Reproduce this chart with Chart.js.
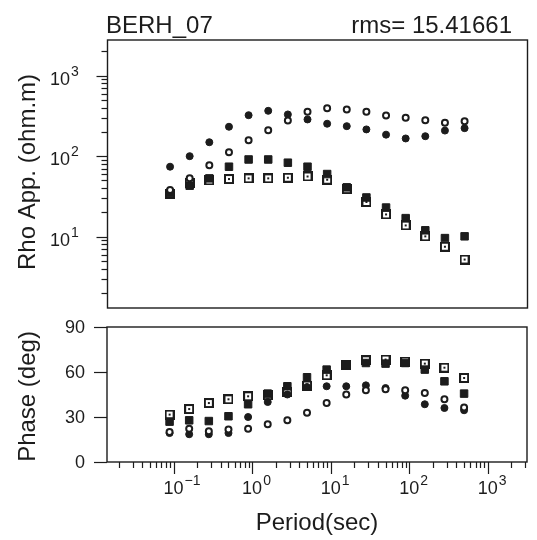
<!DOCTYPE html>
<html>
<head>
<meta charset="UTF-8">
<title>BERH_07</title>
<style>
  body { margin: 0; background: #fff; }
  #wrap { position: relative; width: 537px; height: 540px; background: #fff; }
  canvas { position: absolute; left: 0; }
  #rho { top: 0; }
  #phase { top: 315px; }
</style>
<script src="https://cdn.jsdelivr.net/npm/chart.js"></script>
</head>
<body>
<div id="wrap">
  <canvas id="rho" width="537" height="320"></canvas>
  <canvas id="phase" width="537" height="225"></canvas>
</div>
<script>
// periods (s)
const periods = [0.0889, 0.158, 0.281, 0.5, 0.889, 1.58, 2.81, 5, 8.89, 15.8, 28.1, 50, 88.9, 158, 281, 500];

// apparent resistivity (ohm.m)
const rhoCircleFilled = [74, 100, 149, 232, 323, 366, 330, 286, 253, 236, 215, 185, 166, 177, 208, 223];
const rhoCircleOpen   = [38, 53, 77, 112, 158, 210, 277, 356, 395, 380, 356, 320, 300, 280, 260, 272];
const rhoSquareFilled = [35, 43, 53, 74, 91, 91, 83, 74, 60, 41, 30.7, 23, 17, 12, 9.6, 10.1];
const rhoSquareOpen   = [34, 46, 50, 52, 53, 53, 54, 56, 51, 39, 27, 18.9, 13.8, 10.1, 7.5, 5.2];

// phase (deg)
const phaseCircleFilled = [19.3, 18.5, 18.5, 19.3, 30, 40, 45, 50, 50.5, 50.5, 51.1, 49.3, 44.2, 38.5, 36, 34.5];
const phaseCircleOpen   = [20, 22.2, 20.5, 21.6, 22.2, 25.1, 27.8, 32.9, 39.3, 45, 47.8, 48.5, 47.8, 46, 41.8, 36.3];
const phaseSquareFilled = [26.9, 27.8, 27.3, 30.5, 38.5, 45.6, 50.5, 56.5, 61.6, 64.9, 66, 65.6, 66, 61.6, 53.8, 45.6];
const phaseSquareOpen   = [31.6, 35.3, 39.3, 41.8, 43.8, 44.5, 46.5, 51, 57.8, 65, 67.8, 68.3, 67, 65.6, 62.9, 56];

// tick labels
const periodExps = [-1, 0, 1, 2, 3];
const rhoExps = [1, 2, 3];
const phaseTicks = [0, 30, 60, 90];

const INK = '#1c1c1c';
const FONT = '"Liberation Sans", Arial, sans-serif';

// open square with a dot in the middle
const openSq = document.createElement('canvas');
openSq.width = 10; openSq.height = 10;
(function () {
  const c = openSq.getContext('2d');
  c.fillStyle = '#fff'; c.fillRect(0, 0, 10, 10);
  c.strokeStyle = INK; c.lineWidth = 2; c.strokeRect(1, 1, 8, 8);
  c.fillStyle = INK; c.fillRect(4, 4, 2, 2);
})();

function pts(ys) {
  return periods.map((p, i) => ({ x: p, y: ys[i] }));
}

function makeSets(cf, co, sf, so) {
  return [
    { label: 'open circle', data: pts(co), pointStyle: 'circle', radius: 3, borderWidth: 2, borderColor: INK, backgroundColor: '#fff' },
    { label: 'filled circle', data: pts(cf), pointStyle: 'circle', radius: 3.5, borderWidth: 1, borderColor: INK, backgroundColor: INK },
    { label: 'filled square', data: pts(sf), pointStyle: 'rect', radius: 5.3, borderWidth: 1, borderColor: INK, backgroundColor: INK },
    { label: 'open square', data: pts(so), pointStyle: openSq, radius: 5 }
  ];
}

function pow10(ctx, exp, x, y, align) {
  ctx.fillStyle = INK;
  ctx.textBaseline = 'middle';
  ctx.font = '18px ' + FONT;
  const w = ctx.measureText('10').width;
  let x0 = align === 'center' ? x - w / 2 : x - w;
  ctx.textAlign = 'left';
  ctx.fillText('10', x0, y);
  ctx.font = '14px ' + FONT;
  ctx.fillText(String(exp).replace('-', '\u2212'), x0 + w + 1, y - 8);
}

function logMinors(min, max) {
  const out = [];
  for (let k = Math.floor(Math.log10(min)); k <= Math.ceil(Math.log10(max)); k++) {
    for (let m = 1; m <= 9; m++) {
      const v = m * Math.pow(10, k);
      if (v >= min && v <= max) out.push({ v: v, major: m === 1 });
    }
  }
  return out;
}

function frame(ctx, a) {
  ctx.save();
  ctx.strokeStyle = INK;
  ctx.lineWidth = 1.4;
  ctx.strokeRect(a.left, a.top, a.right - a.left, a.bottom - a.top);
  ctx.restore();
}

const rhoDeco = {
  id: 'rhoDeco',
  afterDraw(chart) {
    const ctx = chart.ctx, a = chart.chartArea, y = chart.scales.y;
    frame(ctx, a);
    ctx.save();
    ctx.strokeStyle = INK; ctx.lineWidth = 1.2;
    logMinors(y.min, y.max).forEach(t => {
      const py = Math.round(y.getPixelForValue(t.v)) + 0.5;
      ctx.beginPath();
      ctx.moveTo(a.left - (t.major ? 11 : 6), py);
      ctx.lineTo(a.left, py);
      ctx.stroke();
    });
    rhoExps.forEach(e => pow10(ctx, e, 70, y.getPixelForValue(Math.pow(10, e)) + 4, 'right'));
    ctx.fillStyle = INK;
    ctx.font = '24px ' + FONT;
    ctx.textBaseline = 'alphabetic';
    ctx.textAlign = 'left';
    ctx.fillText('BERH_07', 106, 33);
    ctx.textAlign = 'right';
    ctx.fillText('rms= 15.41661', 512, 33);
    ctx.translate(35, (a.top + a.bottom) / 2 - 2);
    ctx.rotate(-Math.PI / 2);
    ctx.textAlign = 'center';
    ctx.fillText('Rho App. (ohm.m)', 0, 0);
    ctx.restore();
  }
};

const phaseDeco = {
  id: 'phaseDeco',
  afterDraw(chart) {
    const ctx = chart.ctx, a = chart.chartArea, x = chart.scales.x, y = chart.scales.y;
    frame(ctx, a);
    ctx.save();
    ctx.strokeStyle = INK; ctx.lineWidth = 1.2;
    phaseTicks.forEach(v => {
      const py = Math.round(y.getPixelForValue(v)) + 0.5;
      ctx.beginPath(); ctx.moveTo(a.left - 13, py); ctx.lineTo(a.left, py); ctx.stroke();
    });
    logMinors(x.min, x.max).forEach(t => {
      const px = Math.round(x.getPixelForValue(t.v)) + 0.5;
      ctx.beginPath(); ctx.moveTo(px, a.bottom); ctx.lineTo(px, a.bottom + (t.major ? 12 : 6)); ctx.stroke();
    });
    ctx.fillStyle = INK;
    ctx.font = '18px ' + FONT;
    ctx.textAlign = 'right';
    ctx.textBaseline = 'middle';
    phaseTicks.forEach(v => ctx.fillText(String(v), 85, y.getPixelForValue(v) + 1));
    periodExps.forEach(e => pow10(ctx, e, x.getPixelForValue(Math.pow(10, e)), a.bottom + 27, 'center'));
    ctx.font = '24px ' + FONT;
    ctx.textAlign = 'center';
    ctx.textBaseline = 'alphabetic';
    ctx.fillText('Period(sec)', (a.left + a.right) / 2, 215);
    ctx.translate(35, (a.top + a.bottom) / 2 + 2);
    ctx.rotate(-Math.PI / 2);
    ctx.fillText('Phase (deg)', 0, 0);
    ctx.restore();
  }
};

const xScale = { type: 'logarithmic', display: false, min: 0.0142, max: 3162 };

new Chart(document.getElementById('rho'), {
  type: 'scatter',
  data: { datasets: makeSets(rhoCircleFilled, rhoCircleOpen, rhoSquareFilled, rhoSquareOpen) },
  options: {
    responsive: false, devicePixelRatio: 1, animation: false,
    layout: { padding: { left: 107.5, right: 9.5, top: 40, bottom: 12 } },
    scales: { x: xScale, y: { type: 'logarithmic', display: false, min: 1.3, max: 2775 } },
    plugins: { legend: { display: false }, tooltip: { enabled: false } }
  },
  plugins: [rhoDeco]
});

new Chart(document.getElementById('phase'), {
  type: 'scatter',
  data: { datasets: makeSets(phaseCircleFilled, phaseCircleOpen, phaseSquareFilled, phaseSquareOpen) },
  options: {
    responsive: false, devicePixelRatio: 1, animation: false,
    layout: { padding: { left: 107, right: 10, top: 12, bottom: 78 } },
    scales: { x: xScale, y: { type: 'linear', display: false, min: 0, max: 90 } },
    plugins: { legend: { display: false }, tooltip: { enabled: false } }
  },
  plugins: [phaseDeco]
});
</script>
</body>
</html>
